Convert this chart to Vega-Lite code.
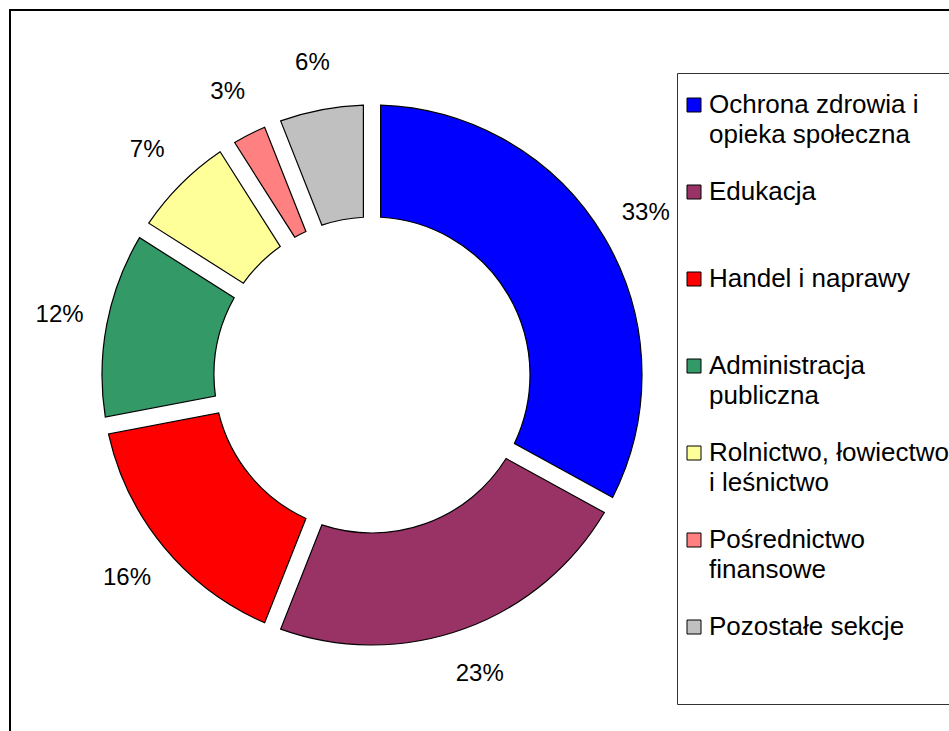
{
  "$schema": "https://vega.github.io/schema/vega-lite/v6.json",
  "autosize": "none",
  "width": 945,
  "height": 730,
  "padding": {"left": 10, "top": 10, "right": 0, "bottom": 0},
  "background": "white",
  "config": {
    "view": {"stroke": null},
    "font": "Liberation Sans",
    "style": {"guide-label": {"lineHeight": 30, "dy": -13}}
  },
  "layer": [
    {
      "data": {"values": [{"ramka": 1}]},
      "mark": {"type": "rect", "fill": "white", "stroke": "black", "strokeWidth": 2},
      "encoding": {}
    },
    {
      "data": {"name": "dane"},
      "layer": [
        {
          "mark": {"type": "arc", "x": 362, "y": 365, "innerRadius": 158, "outerRadius": 270, "padAngle": 0.055, "stroke": "black", "strokeWidth": 1.2},
          "encoding": {
            "theta": {"field": "udzial", "type": "quantitative", "stack": true},
            "order": {"field": "nr", "type": "quantitative"},
            "color": {
              "field": "sekcja",
              "type": "nominal",
              "sort": null,
              "scale": {
                "domain": ["Ochrona zdrowia i|opieka społeczna|", "Edukacja||", "Handel i naprawy||", "Administracja|publiczna|", "Rolnictwo, łowiectwo|i leśnictwo|", "Pośrednictwo|finansowe|", "Pozostałe sekcje||"],
                "range": ["#0000FF", "#993366", "#FF0000", "#339966", "#FFFF99", "#FF8080", "#C0C0C0"]
              },
              "legend": {
                "orient": "none",
                "legendX": 667,
                "legendY": 63,
                "title": " ",
                "titleFontSize": 8,
                "titlePadding": 7,
                "labelExpr": "split(datum.label, '|')",
                "labelFont": "Liberation Sans",
                "labelFontSize": 26,
                "labelColor": "black",
                "labelLimit": 400,
                "labelBaseline": "top",
                "labelOffset": 2,
                "symbolType": "square",
                "symbolSize": 196,
                "symbolStrokeColor": "black",
                "symbolStrokeWidth": 1,
                "rowPadding": 1,
                "padding": 4,
                "strokeColor": "#333333",
                "fillColor": "white"
              }
            }
          }
        },
        {
          "mark": {"type": "text", "x": 362, "y": 365, "radius": 318, "font": "Liberation Sans", "fontSize": 24, "color": "black"},
          "encoding": {
            "theta": {"field": "udzial", "type": "quantitative", "stack": true},
            "order": {"field": "nr", "type": "quantitative"},
            "text": {"field": "etykieta", "type": "nominal"}
          }
        }
      ]
    }
  ],
  "datasets": {
    "dane": [
      {"nr": 1, "sekcja": "Ochrona zdrowia i|opieka społeczna|", "udzial": 33, "etykieta": "33%"},
      {"nr": 2, "sekcja": "Edukacja||", "udzial": 23, "etykieta": "23%"},
      {"nr": 3, "sekcja": "Handel i naprawy||", "udzial": 16, "etykieta": "16%"},
      {"nr": 4, "sekcja": "Administracja|publiczna|", "udzial": 12, "etykieta": "12%"},
      {"nr": 5, "sekcja": "Rolnictwo, łowiectwo|i leśnictwo|", "udzial": 7, "etykieta": "7%"},
      {"nr": 6, "sekcja": "Pośrednictwo|finansowe|", "udzial": 3, "etykieta": "3%"},
      {"nr": 7, "sekcja": "Pozostałe sekcje||", "udzial": 6, "etykieta": "6%"}
    ]
  }
}
